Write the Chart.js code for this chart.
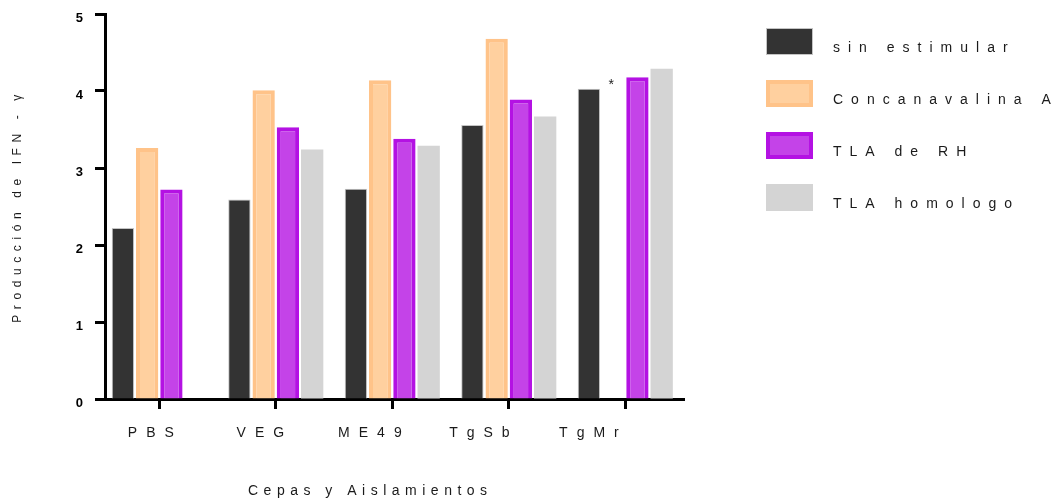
<!DOCTYPE html>
<html>
<head>
<meta charset="utf-8">
<script src="https://cdn.jsdelivr.net/npm/chart.js@4.4.0/dist/chart.umd.min.js"></script>
<style>
  html, body { margin: 0; padding: 0; background: #fff; }
</style>
</head>
<body>
<canvas id="ifnChart" width="1061" height="498"></canvas>
<script>
// datos
const cepas = ["PBS", "VEG", "ME49", "TgSb", "TgMr"];
const sinEstimular = [2.22, 2.59, 2.73, 3.56, 4.03];
const concanavalinaA = [3.26, 4.01, 4.14, 4.68, null];
const tlaRH = [2.72, 3.53, 3.38, 3.89, 4.18];
const tlaHomologo = [null, 3.24, 3.29, 3.67, 4.29];
const yTicks = [0, 1, 2, 3, 4, 5];
const asterisco = { serie: 1, cepa: 4, valor: 4.03 };

const tituloX = "Cepas y Aislamientos";
const tituloY = "Producción de IFN - γ";
const fuente = '"Liberation Sans", Arial, Helvetica, sans-serif';

// one point per strain, x = position of the strain
const puntos = (valores) => valores.map((v, i) => ({ x: i, y: v }));

// letter spacing + titles + legend drawn on the canvas
const extras = {
  id: "extras",
  beforeDraw(chart) { chart.ctx.letterSpacing = "6px"; },
  beforeDatasetsDraw(chart) { chart.ctx.letterSpacing = "0px"; },
  afterDatasetsDraw(chart) { chart.ctx.letterSpacing = "9px"; },
  afterDraw(chart) {
    const ctx = chart.ctx;
    const y = chart.scales.y;
    ctx.save();
    ctx.letterSpacing = "0px";

    // asterisk over the empty Con A slot of TgMr
    const bar = chart.getDatasetMeta(asterisco.serie).data[asterisco.cepa];
    ctx.fillStyle = "#222";
    ctx.font = "14px " + fuente;
    ctx.textAlign = "center";
    ctx.textBaseline = "alphabetic";
    ctx.fillText("*", bar.x - 2, y.getPixelForValue(asterisco.valor));

    // axis titles
    ctx.fillStyle = "#1a1a1a";
    ctx.letterSpacing = "5.5px";
    ctx.textAlign = "left";
    ctx.fillText(tituloX, 248, 495);

    ctx.save();
    ctx.translate(20.5, 206);
    ctx.rotate(-Math.PI / 2);
    ctx.textAlign = "center";
    ctx.font = "12px " + fuente;
    ctx.letterSpacing = "5.6px";
    ctx.fillText(tituloY, 0, 0);
    ctx.restore();

    // legend
    ctx.font = "14px " + fuente;
    ctx.letterSpacing = "8px";
    ctx.textAlign = "left";
    chart.data.datasets.forEach((ds, i) => {
      const top = 28 + i * 52;
      const bw = ds.borderWidth;
      ctx.fillStyle = ds.borderColor;
      ctx.fillRect(766, top, 47, 27);
      ctx.fillStyle = ds.backgroundColor;
      ctx.fillRect(766 + bw, top + bw, 47 - 2 * bw, 27 - 2 * bw);
      ctx.fillStyle = "#1a1a1a";
      ctx.fillText(ds.label, 833, top + 24);
    });
    ctx.restore();
  }
};

const ctx = document.getElementById("ifnChart").getContext("2d");
new Chart(ctx, {
  type: "bar",
  data: {
    datasets: [
      {
        label: "sin estimular",
        data: puntos(sinEstimular),
        backgroundColor: "#333333",
        borderColor: "#c4c4c4",
        borderWidth: 1,
      },
      {
        label: "Concanavalina A",
        data: puntos(concanavalinaA),
        backgroundColor: "#FFD09F",
        borderColor: "#FFC389",
        borderWidth: 4,
      },
      {
        label: "TLA de RH",
        data: puntos(tlaRH),
        backgroundColor: "#C443E8",
        borderColor: "#B412E3",
        borderWidth: 4,
      },
      {
        label: "TLA homologo",
        data: puntos(tlaHomologo),
        backgroundColor: "#D4D4D4",
        borderColor: "#D4D4D4",
        borderWidth: 0,
      },
    ],
  },
  options: {
    responsive: false,
    animation: false,
    devicePixelRatio: 1,
    events: [],
    categoryPercentage: 0.833,
    barPercentage: 0.92,
    layout: { padding: { top: 14, right: 377, bottom: 0, left: 0 } },
    plugins: {
      legend: { display: false },
      tooltip: { enabled: false },
    },
    scales: {
      x: {
        type: "linear",
        offset: false,
        bounds: "data",
        min: -0.466,
        max: 4.504,
        weight: 0,
        grid: {
          offset: false,
          drawOnChartArea: false,
          drawTicks: true,
          tickLength: 10,
          tickWidth: 3,
          tickColor: "#000",
        },
        border: { color: "#000", width: 3 },
        ticks: { display: false },
        afterBuildTicks: (s) => { s.ticks = cepas.map((c, i) => ({ value: i })); },
        afterFit: (s) => { s.height = 11; },
      },
      // second bottom axis only carries the strain names (they sit a bit left of the ticks)
      xNombres: {
        type: "linear",
        position: "bottom",
        offset: false,
        bounds: "data",
        weight: 1,
        min: -0.46,
        max: 4.827,
        grid: { display: false, offset: false, drawTicks: false },
        border: { display: false },
        ticks: {
          z: 1,
          autoSkip: false,
          padding: 15,
          color: "#1a1a1a",
          font: { family: fuente, size: 14 },
          callback: (v) => cepas[v],
        },
        afterBuildTicks: (s) => { s.ticks = cepas.map((c, i) => ({ value: i })); },
        afterFit: (s) => { s.height = 88; },
      },
      y: {
        min: 0,
        max: 5,
        grid: {
          drawOnChartArea: false,
          drawTicks: true,
          tickLength: 10,
          tickWidth: 3,
          tickColor: "#000",
        },
        border: { color: "#000", width: 3 },
        ticks: {
          padding: 6,
          labelOffset: 4,
          color: "#000",
          font: { family: fuente, size: 13, weight: "bold" },
        },
        afterBuildTicks: (s) => { s.ticks = yTicks.map((v) => ({ value: v })); },
        afterFit: (s) => { s.width = 105; },
      },
    },
  },
  plugins: [extras],
});
</script>
</body>
</html>
